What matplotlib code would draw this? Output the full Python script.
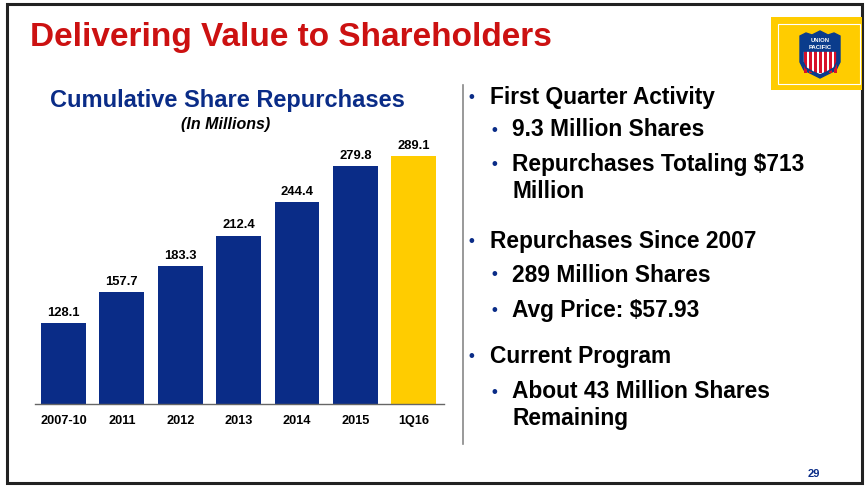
import matplotlib
matplotlib.use("Agg")
import matplotlib.pyplot as plt
from matplotlib.patches import Rectangle, Polygon

plt.rcParams['font.family'] = ['Liberation Sans', 'DejaVu Sans']

# ---- data ----
categories = ["2007-10", "2011", "2012", "2013", "2014", "2015", "1Q16"]
values = [128.1, 157.7, 183.3, 212.4, 244.4, 279.8, 289.1]
bar_colors = ["#0A2C87"] * 6 + ["#FFCC00"]

title = "Delivering Value to Shareholders"
chart_title = "Cumulative Share Repurchases"
chart_subtitle = "(In Millions)"
bullets = [
    (1, ["First Quarter Activity"]),
    (2, ["9.3 Million Shares"]),
    (2, ["Repurchases Totaling $713", "Million"]),
    (1, ["Repurchases Since 2007"]),
    (2, ["289 Million Shares"]),
    (2, ["Avg Price: $57.93"]),
    (1, ["Current Program"]),
    (2, ["About 43 Million Shares", "Remaining"]),
]
bullet_y = [97, 130, 165, 241, 275, 310, 357, 392]
page_number = "29"

W, H = 867, 491
fig = plt.figure(figsize=(W / 100, H / 100), dpi=100)
fig.patch.set_facecolor("white")

# overlay axes in pixel coordinates
ov = fig.add_axes([0, 0, 1, 1])
ov.set_xlim(0, W)
ov.set_ylim(H, 0)
ov.axis("off")

# frame
ov.add_patch(Rectangle((6.5, 4), 855, 479, fill=False, ec="#222222", lw=2.2))

# title
ov.text(30, 37, title, color="#CC1111", fontsize=24, fontweight="bold",
        ha="left", va="center")

# logo
ov.add_patch(Rectangle((771, 17), 91, 73, fc="#FFCC00", ec="none"))
ov.add_patch(Rectangle((777.5, 23.5), 82, 60, fill=False, ec="white", lw=0.8))
shield_outline = [(800, 36), (806, 33), (812, 35), (820, 31), (828, 35), (834, 33),
                  (840, 36), (840, 62), (836, 70), (828, 74), (820, 78),
                  (812, 74), (804, 70), (800, 62)]
ov.add_patch(Polygon(shield_outline, closed=True, fc="#0A3C8C", ec="#0A3C8C", lw=1))
body = [(803, 51), (837, 51), (837, 62), (834, 68), (827, 72),
        (820, 75), (813, 72), (806, 68), (803, 62)]
ov.add_patch(Polygon(body, closed=True, fc="white", ec="none"))
for sx in range(804, 837, 5):
    ov.add_patch(Rectangle((sx, 51), 2.6, 22, fc="#D8102A", ec="none"))
ov.add_patch(Polygon(body, closed=True, fill=False, ec="#0A3C8C", lw=1.2))
ov.text(820, 40.5, "UNION", color="white", fontsize=4.2, fontweight="bold",
        ha="center", va="center")
ov.text(820, 47, "PACIFIC", color="white", fontsize=4.2, fontweight="bold",
        ha="center", va="center")

# chart titles
ov.text(227, 100, chart_title, color="#0A2C87", fontsize=17, fontweight="bold",
        ha="center", va="center")
ov.text(226, 124, chart_subtitle, color="black", fontsize=11.5, fontweight="bold",
        fontstyle="italic", ha="center", va="center")

# separator
ov.plot([462.5, 462.5], [85, 444], color="#888888", lw=1.2)

# bullets
for (lvl, lines), y in zip(bullets, bullet_y):
    bx = 471 if lvl == 1 else 494
    tx = 490 if lvl == 1 else 512
    ov.text(bx, y, "•", color="#0A2C87", fontsize=12, fontweight="bold",
            ha="center", va="center")
    for i, line in enumerate(lines):
        ov.text(tx, y + 27 * i, line, color="black", fontsize=16.4,
                fontweight="bold", ha="left", va="center")

ov.text(814, 474, page_number, color="#0A2C87", fontsize=8, fontweight="bold",
        ha="center", va="center")

# bar chart axes
left_px, right_px = 35, 444
bottom_px, top_px = 404, 140
ax = fig.add_axes([left_px / W, 1 - bottom_px / H,
                   (right_px - left_px) / W, (bottom_px - top_px) / H])
ax.set_facecolor("none")
x = list(range(len(categories)))
ax.bar(x, values, width=0.77, color=bar_colors, edgecolor="none")
ymin = 50
ax.set_ylim(ymin, ymin + (bottom_px - top_px) / 1.037)
ax.set_xlim(-0.49, 6.52)
for xi, v in zip(x, values):
    ax.text(xi, v + 4, f"{v:.1f}", ha="center", va="bottom", fontsize=9.4,
            fontweight="bold", color="black")
ax.set_xticks(x)
ax.set_xticklabels(categories, fontsize=9.2, fontweight="bold")
ax.tick_params(axis="x", length=0, pad=8)
ax.set_yticks([])
for s in ["top", "right", "left"]:
    ax.spines[s].set_visible(False)
ax.spines["bottom"].set_color("#666666")
ax.spines["bottom"].set_linewidth(1)

fig.savefig("out.png", dpi=100, facecolor="white")
